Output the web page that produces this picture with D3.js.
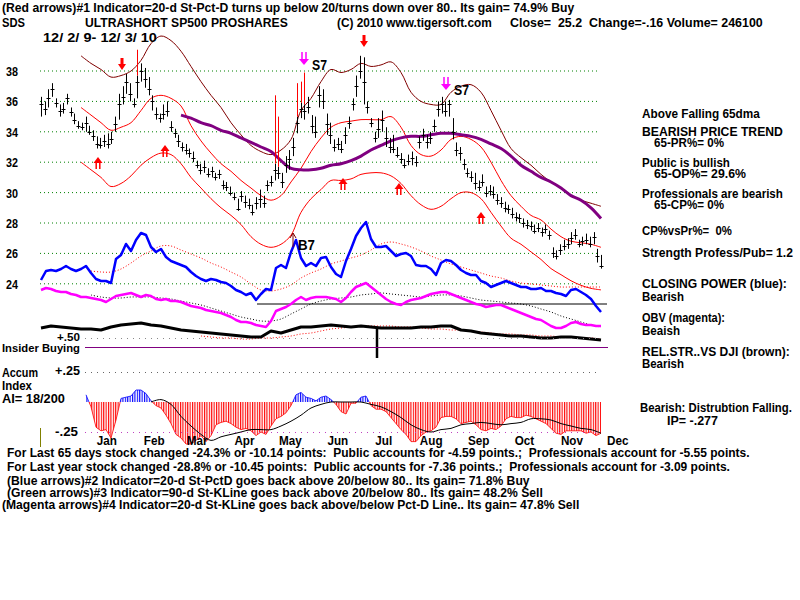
<!DOCTYPE html>
<html><head><meta charset="utf-8">
<script src="https://cdnjs.cloudflare.com/ajax/libs/d3/7.8.5/d3.min.js"></script>
<style>body{margin:0;background:#fff}text{white-space:pre}</style>
</head><body><svg id="c" width="800" height="600"></svg>
<script>
// ---------------- DATA ----------------
const startDate = new Date(2009, 11, 2), endDate = new Date(2010, 11, 3);
const priceTicks = [24, 26, 28, 30, 32, 34, 36, 38];
const priceClose = [35.8,35.5,36.2,36.8,35.9,35.4,35.5,36.2,35.3,34.8,34.4,34.3,34.6,34.0,33.7,33.2,33.1,33.4,33.2,33.5,
34.5,35.8,36.3,37.3,36.5,35.8,37.3,38.0,37.5,36.8,36.0,35.2,34.9,35.2,35.4,34.3,33.9,33.4,33.0,32.8,
32.6,32.3,31.8,31.5,31.7,31.2,31.4,31.0,31.2,30.5,30.4,30.0,29.7,28.9,29.8,29.4,29.2,28.7,29.3,29.6,
29.3,30.5,30.7,31.5,31.3,30.7,31.8,32.2,33.0,34.6,35.5,35.4,35.6,34.4,34.0,36.4,36.0,34.5,33.8,33.0,
33.2,32.9,33.8,34.6,35.8,37.0,38.0,37.3,35.6,34.6,33.6,34.2,34.8,33.6,33.0,32.9,32.5,32.2,31.8,32.1,
32.3,32.0,33.3,33.8,33.3,33.6,34.4,35.5,35.8,35.4,35.8,34.0,32.8,32.6,31.9,31.3,31.0,30.6,30.4,30.7,
30.0,30.1,29.9,29.5,29.3,29.0,28.9,28.6,28.4,28.3,28.0,27.9,27.8,27.5,27.7,27.4,27.6,27.2,26.0,25.8,
26.2,26.5,26.6,27.0,27.2,26.6,26.8,26.9,26.6,27.1,25.8,25.2];
const priceLow = [35.0,35.1,35.6,36.3,35.6,35.0,35.2,35.8,35.0,34.5,34.2,34.1,34.0,33.8,33.4,32.9,32.9,33.0,32.9,33.2,
34.0,34.8,35.8,36.5,36.0,35.6,36.2,37.3,36.9,36.4,35.4,34.8,34.6,34.8,35.0,34.0,33.6,33.0,32.7,32.5,
32.3,32.0,31.6,31.2,31.3,31.0,31.0,30.8,30.9,30.2,30.1,29.8,29.5,28.8,29.4,29.0,28.9,28.5,28.9,29.0,
29.0,30.1,30.4,30.8,30.9,30.3,31.3,31.5,32.4,33.9,34.9,34.8,35.2,33.9,33.6,35.6,35.5,33.8,33.2,32.7,
32.8,32.6,33.2,34.2,35.4,36.3,37.5,35.8,35.2,34.3,33.3,33.6,34.0,33.0,32.6,32.6,32.3,31.9,31.6,31.8,
31.8,31.7,32.9,33.4,32.9,33.2,34.0,35.0,35.2,35.0,35.0,33.5,32.4,32.1,31.5,31.0,30.7,30.2,30.1,30.4,
29.7,29.8,29.6,29.2,29.0,28.7,28.6,28.3,28.1,28.0,27.7,27.6,27.5,27.3,27.4,27.1,27.3,26.9,25.7,25.6,
25.9,26.2,26.3,26.6,26.9,26.4,26.5,26.6,26.4,26.6,25.4,25.0];
const priceHigh = [36.3,36.0,36.8,37.2,36.2,35.8,35.9,36.5,35.6,35.2,34.7,34.6,35.0,34.4,34.1,33.7,33.6,33.8,33.9,34.0,
35.0,36.5,37.0,37.8,37.2,36.2,39.4,38.5,38.2,37.6,36.4,35.6,35.2,35.8,36.0,34.7,34.2,33.8,33.3,33.2,
32.9,32.7,32.1,31.9,32.1,31.6,31.7,31.3,31.5,30.8,30.7,30.4,30.0,29.6,30.1,29.8,29.6,29.2,29.7,30.2,
29.8,30.8,31.1,36.4,35.0,31.3,32.4,32.8,33.6,37.2,37.3,37.9,36.3,35.1,35.0,37.0,36.8,35.2,34.6,33.5,
33.6,33.4,34.3,35.0,36.2,37.7,39.0,38.9,36.0,34.9,34.0,34.9,35.4,34.3,33.6,33.8,33.0,32.6,32.2,32.5,
32.7,32.4,33.7,34.2,33.8,34.0,34.8,36.0,36.3,36.0,36.1,34.9,33.3,33.0,32.2,31.6,31.4,31.3,30.8,31.2,
30.4,30.5,30.4,29.9,29.7,29.4,29.2,29.0,28.7,28.6,28.3,28.2,28.1,27.9,28.0,27.7,27.9,27.5,26.4,26.2,
26.6,26.9,27.0,27.4,27.6,26.9,27.1,27.3,27.1,27.4,26.3,25.9];
const redSpikeBars = [26, 63, 64, 69, 70, 71];

// 10-step series (57 samples over the period); null = not drawn
const upperBand = [null,null,null,null,39.0,38.5,38.1,37.6,37.7,38.0,38.7,39.8,40.3,40.0,39.3,38.3,37.3,36.4,35.6,34.6,
33.8,33.1,32.7,32.5,32.8,33.5,35.4,36.2,37.3,38.1,37.9,38.1,38.5,38.3,38.4,38.6,37.9,36.6,36.0,35.8,
35.8,36.6,37.0,37.1,36.6,35.4,34.1,32.9,32.3,31.8,31.2,30.7,30.3,29.8,29.5,29.3,29.1];
const middleBand = [null,null,null,null,35.6,35.1,34.6,34.1,34.3,34.6,35.4,36.2,36.4,36.2,35.7,34.4,33.4,32.6,31.9,31.4,
30.8,30.3,29.8,29.5,29.8,30.7,31.6,32.7,33.6,34.3,34.6,34.7,34.8,34.8,34.8,35.0,34.3,33.1,32.5,32.4,
32.8,33.5,33.7,33.5,33.0,32.0,30.8,29.8,29.1,28.5,28.2,27.6,27.1,26.8,26.7,26.6,26.4];
const lowerBand = [null,null,null,null,32.0,31.5,31.0,30.4,30.6,31.1,31.8,32.3,32.6,32.5,31.9,31.0,30.3,29.6,29.0,28.5,
27.9,27.1,26.6,26.4,26.6,27.2,28.7,29.6,30.2,30.8,30.8,30.9,31.2,31.3,31.3,31.1,30.6,29.8,29.2,28.9,
29.1,29.6,30.0,30.0,29.6,28.7,27.8,27.0,26.6,26.1,25.6,25.0,24.6,24.2,23.9,23.7,23.6];
const ma65 = [null,null,null,null,null,null,null,null,null,null,null,null,null,null,35.1,34.9,34.6,34.4,34.1,33.9,
33.6,33.3,33.0,32.7,32.1,31.6,31.5,31.5,31.6,31.8,31.9,32.1,32.4,32.8,33.1,33.4,33.6,33.7,33.7,33.8,
33.9,33.9,33.8,33.7,33.5,33.2,32.9,32.4,31.8,31.4,31.0,30.7,30.3,29.8,29.5,29.0,28.3];
const cpMA = [null,null,null,null,null,79,78,78,81,87,94,99,104,104,100,96,92,87,83,78,
73,66,60,59,61,65,72,77,81,86,89,92,95,100,106,108,106,103,99,94,
90,86,83,80,77,74,72,69,67,66,65,64,63,63,63,63,63];
const obvMA = [null,null,null,null,null,55,53,52,52,53,53,53,52,51,49,47,45,42,39,36,
33,31,29,29,31,36,41,46,49,51,52,53,55,56,57,56,55,54,53,54,
55,55,54,52,50,49,48,47,46,44,41,38,34,31,28,25,23];
const relStrength = [22,24,23,22,21,21,20,23,25,26,27,25,24,22,20,19,18,17,16,15,
14,13,13,19,17,20,23,23,24,25,24,23,24,23,22,22,22,22,23,23,
24,24,20,19,17,16,15,14,14,13,12,12,13,13,12,11,10];
const relStrengthMA = [null,null,null,null,null,null,null,null,null,null,null,null,null,null,null,null,14,13,12,12,
11,11,12,12,13,14,16,17,19,21,22,23,24,24,24,24,23,23,22,21,
21,20,20,19,18,17,16,16,15,15,14,14,13,13,12,12,11];
const aiMA = [null,null,null,null,null,null,null,null,null,null,null,0.0,0.02,-0.02,-0.12,-0.20,-0.27,-0.32,-0.29,-0.27,
-0.25,-0.23,-0.23,-0.23,-0.20,-0.16,-0.11,-0.05,-0.02,0.0,0.0,0.0,0.0,-0.02,-0.04,-0.08,-0.13,-0.19,-0.23,-0.25,
-0.23,-0.22,-0.19,-0.18,-0.17,-0.18,-0.19,-0.18,-0.17,-0.14,-0.14,-0.15,-0.18,-0.20,-0.22,-0.23,-0.26];

// 5-step series (113 samples over the period)
const closingPower = [70,79,80,79,81,84,81,79,81,84,77,71,69,69,67,91,95,106,99,110,
117,115,103,98,101,93,89,87,85,83,78,74,71,69,71,70,68,67,64,60,
58,55,57,50,56,61,60,82,85,82,98,110,92,84,87,84,92,93,83,76,
73,89,101,114,122,128,111,103,103,104,99,94,96,97,94,85,84,84,81,75,
87,90,89,85,80,77,75,75,69,67,63,65,67,69,67,65,63,63,61,61,
62,59,59,57,56,54,60,61,58,55,51,44,38];
const obv = [60,62,61,59,58,58,56,55,53,53,52,51,50,48,51,54,55,56,57,55,
53,55,54,51,50,51,49,49,48,46,44,43,42,40,39,38,37,35,33,30,
28,28,27,25,24,23,29,39,41,43,46,50,53,50,52,53,53,53,52,51,
48,52,58,63,65,67,63,59,55,51,48,46,45,48,50,51,52,54,56,57,
58,58,56,54,52,50,48,46,45,43,44,45,45,43,41,39,37,35,33,31,
30,27,24,22,22,24,27,28,26,25,25,24,24];
const accumIndex = [null,null,null,null,null,null,null,null,null,
0.06,-0.04,-0.21,-0.24,-0.23,-0.30,-0.15,0.03,0.04,0.05,
0.10,0.10,0.07,0.01,-0.03,-0.05,-0.11,-0.18,-0.27,-0.30,
-0.35,-0.35,-0.32,-0.28,-0.33,-0.28,-0.19,-0.17,-0.16,-0.18,
-0.21,-0.23,-0.22,-0.24,-0.28,-0.25,-0.27,-0.20,-0.14,-0.12,
-0.09,-0.03,0.06,0.08,0.04,0.03,0.01,0.04,0.05,0.02,
-0.02,-0.08,-0.10,-0.01,-0.01,0.04,0.05,-0.03,-0.06,-0.06,
-0.08,-0.13,-0.18,-0.23,-0.27,-0.33,-0.33,-0.28,-0.25,-0.24,
-0.21,-0.13,-0.12,-0.12,-0.14,-0.18,-0.17,-0.16,-0.19,-0.23,
-0.24,-0.22,-0.23,-0.20,-0.14,-0.12,-0.13,-0.13,-0.11,-0.12,
-0.14,-0.16,-0.18,-0.22,-0.26,-0.27,-0.24,-0.24,-0.24,-0.24,
-0.26,-0.25,-0.28,-0.26];
const cpBaseline = 46, cpBaselineFrom = 43.2;
const insiderAt = [67.2], insiderTop = [22], insiderBottom = [-8];

// signals (5-step sample position, level)
const redDownAt = [16.2, 64.6], redDownLevel = [38.07, 39.58];
const redUpAt = [11.4, 24.8, 60.4, 71.6, 88.0], redUpLevel = [32.34, 33.13, 30.96, 30.63, 28.72];
const magDownAt = [52.6, 81.0], magDownLevel = [38.39, 36.75], magDownLabel = ["S7", "S7"];
const b7At = [50.4], b7Level = [117];

// texts
const headerLine = "(Red arrows)#1 Indicator=20-d St-Pct-D turns up below 20/turns down over 80.. Its gain= 74.9% Buy";
const titleParts = ["SDS", "ULTRASHORT SP500 PROSHARES", "(C) 2010 www.tigersoft.com", "Close=  25.2  Change=-.16 Volume= 246100"];
const dateRange = "12/ 2/ 9- 12/ 3/ 10";
const rightNotes = ["Above Falling 65dma", "BEARISH PRICE TREND", "65-PR%= 0%", "Public is bullish", "65-OP%= 29.6%",
  "Professionals are bearish", "65-CP%= 0%", "CP%vsPr%=  0%", "Strength Profess/Pub= 1.2", "CLOSING POWER (blue):", "Bearish",
  "OBV (magenta):", "Beaish", "REL.STR..VS DJI (brown):", "Bearish", "Bearish: Distrubtion Falling.", "IP= -.277"];
const footerLines = [
  "For Last 65 days stock changed -24.3% or -10.14 points:  Public accounts for -4.59 points.;  Professionals account for -5.55 points.",
  "For Last year stock changed -28.8% or -10.45 points:  Public accounts for -7.36 points.;  Professionals account for -3.09 points.",
  "(Blue arrows)#2 Indicator=20-d St-PctD goes back above 20/below 80.. Its gain= 71.8% Buy",
  "(Green arrows)#3 Indicator=90-d St-KLine goes back above 20/below 80.. Its gain= 48.2% Sell",
  "(Magenta arrows)#4 Indicator=20-d St-KLine goes back above/below Pct-D Line.. Its gain= 47.8% Sell"];
const aiLabels = ["Accum", "Index", "AI= 18/200"];

// ---------------- DRAWING ----------------
const svg = d3.select("#c");
svg.append("rect").attr("width", 800).attr("height", 600).attr("fill", "#fff");
const span = endDate - startDate;
const x = d3.scaleTime().domain([startDate, endDate]).range([41, 601]);
const at = f => x(new Date(+startDate + f * span));
const x5 = k => at(k / 112), x10 = j => at(j / 56);
const yP = d3.scaleLinear().domain([24, 38]).range([283.8, 71]);
const yI = d3.scaleLinear().domain([0, 130]).range([350, 220]);
const yA = d3.scaleLinear().domain([-0.25, 0.25]).range([432, 372]);

const FONT = "'Liberation Sans', Arial, sans-serif";
// text squeezed horizontally to the width it has in the reference
function txt(xp, yp, s, w, opt = {}) {
  const t = svg.append("text").attr("x", 0).attr("y", 0).text(s)
    .attr("font-family", FONT).attr("font-weight", "bold")
    .attr("font-size", opt.size || 12).attr("fill", opt.fill || "#000");
  if (opt.anchor) t.attr("text-anchor", opt.anchor);
  const L = t.node().getComputedTextLength();
  const sx = (w || L * 0.9) / L;
  t.attr("transform", `translate(${xp},${yp}) scale(${sx},1)`);
  return t;
}

// grid lines
svg.append("g").selectAll("line").data(priceTicks).join("line")
  .attr("x1", 40).attr("x2", 600).attr("y1", d => yP(d)).attr("y2", d => yP(d))
  .attr("stroke", "#008000").attr("stroke-dasharray", "1,3");
priceTicks.forEach(v => txt(6, yP(v) + 5, String(v), 12, {size: 13}));

const mkLine = (xf, yf, curve) => d3.line().defined(d => d != null).x((d, i) => xf(i)).y(d => yf(d)).curve(curve || d3.curveLinear);
const path = (data, gen, stroke, width, dash) => {
  const p = svg.append("path").datum(data).attr("d", gen).attr("fill", "none")
    .attr("stroke", stroke).attr("stroke-width", width).attr("stroke-linejoin", "round");
  if (dash) p.attr("stroke-dasharray", dash);
  return p;
};

// bands
path(upperBand, mkLine(x10, yP, d3.curveCatmullRom), "#800000", 1);
path(middleBand, mkLine(x10, yP, d3.curveCatmullRom), "#ff0000", 1);
path(lowerBand, mkLine(x10, yP, d3.curveCatmullRom), "#ff0000", 1);
path(ma65, mkLine(x10, yP, d3.curveCatmullRom), "#800080", 3);

// price bars
const N = priceClose.length;
const xb = i => at(i / (N - 1));
const gb = svg.append("g");
priceClose.forEach((c, i) => {
  const xi = Math.round(xb(i)) + 0.5;
  const red = redSpikeBars.includes(i);
  gb.append("line").attr("x1", xi).attr("x2", xi).attr("y1", yP(priceLow[i])).attr("y2", red ? yP(c + 0.4) : yP(priceHigh[i])).attr("stroke", "#000");
  if (red) gb.append("line").attr("x1", xi).attr("x2", xi).attr("y1", yP(c + 0.4)).attr("y2", yP(priceHigh[i])).attr("stroke", "#ff0000");
  gb.append("line").attr("x1", xi - 2).attr("x2", xi + 2).attr("y1", Math.round(yP(c)) + 0.5).attr("y2", Math.round(yP(c)) + 0.5).attr("stroke", "#000");
});

// indicator panel
svg.append("line").attr("x1", x5(cpBaselineFrom)).attr("x2", 607).attr("y1", yI(cpBaseline)).attr("y2", yI(cpBaseline)).attr("stroke", "#000");
path(cpMA, mkLine(x10, yI, d3.curveCatmullRom), "#ff0000", 1, "1,2");
path(obvMA, mkLine(x10, yI, d3.curveCatmullRom), "#000", 1, "1,2");
path(relStrengthMA, mkLine(x10, yI, d3.curveCatmullRom), "#ff0000", 1, "1,2");
path(obv, mkLine(x5, yI), "#ff00ff", 2.5);
path(closingPower, mkLine(x5, yI), "#0000ff", 2.5);
path(relStrength, mkLine(x10, yI), "#000", 3);
insiderAt.forEach((k, i) => svg.append("line").attr("x1", x5(k)).attr("x2", x5(k))
  .attr("y1", yI(insiderTop[i])).attr("y2", yI(insiderBottom[i])).attr("stroke", "#000").attr("stroke-width", 2.5));

// +.50 and insider lines
svg.append("line").attr("x1", 85).attr("x2", 600).attr("y1", 338.5).attr("y2", 338.5).attr("stroke", "#888").attr("stroke-dasharray", "1,5");
svg.append("line").attr("x1", 85).attr("x2", 608).attr("y1", 347.5).attr("y2", 347.5).attr("stroke", "#800080");
txt(57, 341, "+.50", 23, {size: 11});
txt(2, 352, "Insider Buying", 78, {size: 11.5});

// accumulation index
const defs = svg.append("defs");
[["stR", "#ff0000"], ["stB", "#0000ff"]].forEach(([id, col]) => {
  const p = defs.append("pattern").attr("id", id).attr("width", 2.4).attr("height", 10).attr("patternUnits", "userSpaceOnUse");
  p.append("rect").attr("width", 1.1).attr("height", 10).attr("fill", col);
});
defs.append("clipPath").attr("id", "cPos").append("rect").attr("x", 0).attr("y", 300).attr("width", 800).attr("height", yA(0) - 300);
defs.append("clipPath").attr("id", "cNeg").append("rect").attr("x", 0).attr("y", yA(0)).attr("width", 800).attr("height", 100);
const aiArea = d3.area().defined(d => d != null).x((d, i) => x5(i)).y0(yA(0)).y1(d => yA(d));
svg.append("path").datum(accumIndex).attr("d", aiArea).attr("fill", "url(#stR)").attr("clip-path", "url(#cNeg)");
svg.append("path").datum(accumIndex).attr("d", aiArea).attr("fill", "url(#stB)").attr("clip-path", "url(#cPos)");
path(accumIndex, mkLine(x5, yA), "#ff0000", 0.8).attr("clip-path", "url(#cNeg)");
path(accumIndex, mkLine(x5, yA), "#0000ff", 0.8).attr("clip-path", "url(#cPos)");
path(aiMA, mkLine(x10, yA, d3.curveCatmullRom), "#000", 1);
svg.append("line").attr("x1", 85).attr("x2", 600).attr("y1", yA(0.25) + 0.5).attr("y2", yA(0.25) + 0.5).attr("stroke", "#666").attr("stroke-dasharray", "1,5");
svg.append("line").attr("x1", 85).attr("x2", 600).attr("y1", yA(-0.25) + 0.5).attr("y2", yA(-0.25) + 0.5).attr("stroke", "#c040c0").attr("stroke-dasharray", "1,5");
svg.append("line").attr("x1", 40.5).attr("x2", 40.5).attr("y1", 428).attr("y2", 447).attr("stroke", "#808000");
txt(55, 375, "+.25", 25);
txt(55, 436, "-.25", 23);
aiLabels.forEach((s, i) => txt(2, [377, 390, 403][i], s, [36, 30, 63][i]));

// month labels
d3.timeMonth.range(new Date(2010, 0, 1), new Date(2010, 11, 2)).forEach(m => {
  txt(x(d3.timeDay.offset(m, 13)), 445, d3.timeFormat("%b")(m), null, {anchor: "middle", size: 13});
});

// signals
function downArrow(xc, yt, col) {
  svg.append("path").attr("d", `M${xc - 1.5},${yt - 12}h3v6h2.5l-4,6l-4,-6h2.5z`).attr("fill", col);
}
function upDouble(xc, yt, col) {
  svg.append("path").attr("d", `M${xc},${yt}l4.5,6h-9z`).attr("fill", col);
  svg.append("path").attr("d", `M${xc - 1.8},${yt + 6}v6M${xc + 1.8},${yt + 6}v6`).attr("stroke", col).attr("stroke-width", 1.5);
}
function downDouble(xc, yt, col) {
  svg.append("path").attr("d", `M${xc},${yt}l5,-6h-10z`).attr("fill", col);
  svg.append("path").attr("d", `M${xc - 2},${yt - 6}v-7M${xc + 2},${yt - 6}v-7`).attr("stroke", col).attr("stroke-width", 1.5);
}
redDownAt.forEach((k, i) => downArrow(x5(k), yP(redDownLevel[i]), "#ff0000"));
redUpAt.forEach((k, i) => upDouble(x5(k), yP(redUpLevel[i]), "#ff0000"));
magDownAt.forEach((k, i) => {
  downDouble(x5(k), yP(magDownLevel[i]), "#ff00ff");
  txt(x5(k) + 8, yP(magDownLevel[i]) + 5, magDownLabel[i], 15, {size: 14});
});
b7At.forEach((k, i) => {
  const xx = x5(k), yy = yI(b7Level[i]);
  svg.append("path").attr("d", `M${xx},${yy + 14}V${yy}M${xx - 3},${yy + 5}L${xx},${yy}L${xx + 3},${yy + 5}`).attr("stroke", "#800000").attr("fill", "none");
  txt(xx + 5, yy + 17, "B7", 17, {size: 14});
});

// header
txt(2, 12, headerLine, 573);
txt(2, 27, titleParts[0], 23);
txt(85, 27, titleParts[1], 203);
txt(337, 27, titleParts[2], 155);
txt(510, 27, titleParts[3], 253);
txt(43, 42, dateRange, 114);

// right notes
const rnX = [642, 642, 654, 642, 654, 642, 654, 642, 642, 642, 642, 642, 642, 642, 642, 640, 667];
const rnY = [118, 136, 147, 167, 178, 198, 209, 235, 257, 288, 301, 322, 335, 356, 368, 412, 425];
const rnW = [118, 141, 70, 88, 92, 141, 70, 90, 151, 145, 42, 83, 38, 148, 42, 152, 51];
rightNotes.forEach((s, i) => txt(rnX[i], rnY[i], s, rnW[i]));

// footer
const fY = [457, 471, 485, 497, 509], fX = [7, 7, 7, 7, 2], fW = [743, 723, 523, 536, 578];
footerLines.forEach((s, i) => txt(fX[i], fY[i], s, fW[i]));
</script></body></html>
